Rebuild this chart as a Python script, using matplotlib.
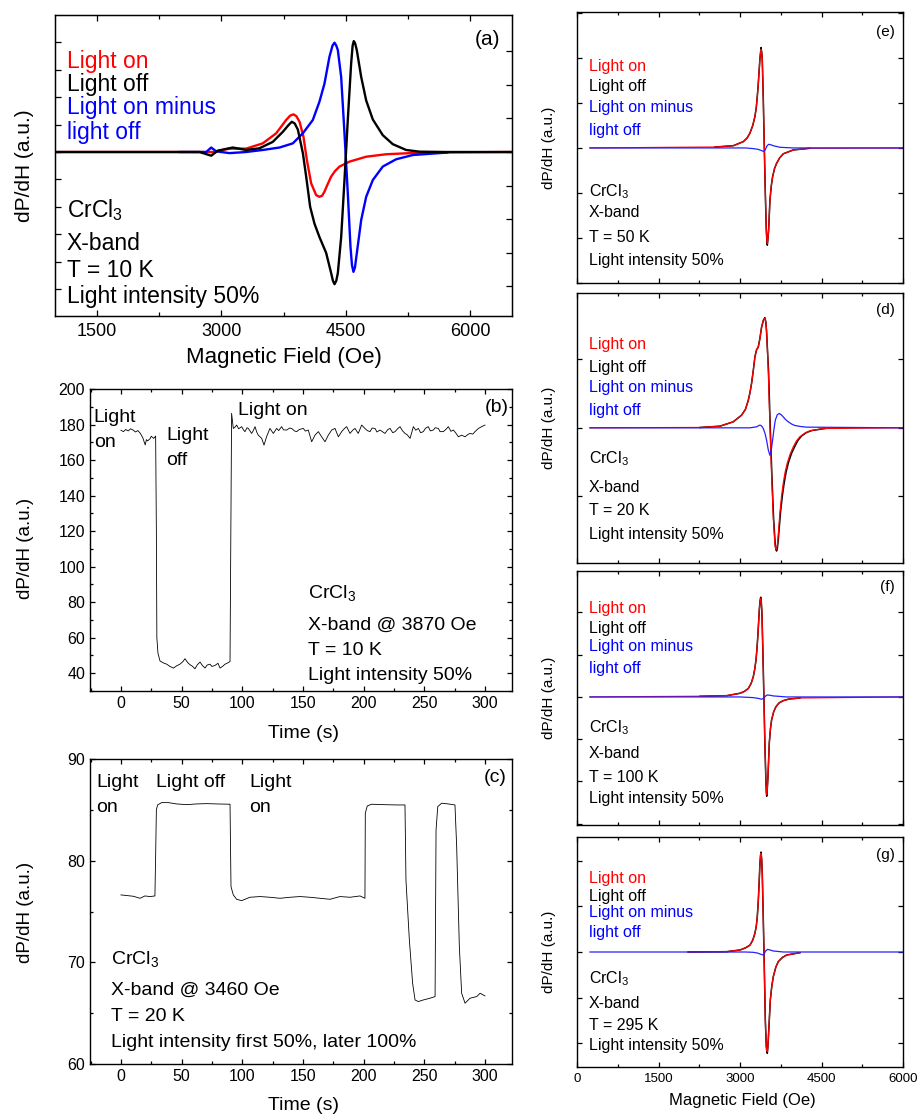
import matplotlib
matplotlib.use("Agg")
import matplotlib.pyplot as plt
from matplotlib.ticker import MultipleLocator

plt.rcParams['font.family'] = ['Liberation Sans', 'DejaVu Sans']
plt.rcParams['mathtext.fontset'] = 'custom'
plt.rcParams['mathtext.rm'] = 'Liberation Sans'

# ---------------- (a) X-band spectra at 10 K ----------------
a_on_x = [1000, 2700, 2900, 3100, 3300, 3500, 3662, 3782, 3830, 3870, 3905, 3943, 3990, 4031,
          4083, 4143, 4183, 4215, 4243, 4280, 4323, 4370, 4424, 4544, 4745, 4985, 5306, 5800, 6500]
a_on_y = [0.0, 0.0, 0.0, 0.03, 0.03, 0.077, 0.167, 0.286, 0.325, 0.336, 0.32, 0.27, 0.137, -0.07,
          -0.28, -0.385, -0.40, -0.39, -0.354, -0.29, -0.22, -0.17, -0.13, -0.086, -0.042, -0.02,
          -0.009, -0.003, 0.0]

a_off_x = [1000, 2740, 2880, 2960, 3140, 3300, 3460, 3620, 3742, 3810, 3850, 3885, 3923, 3983,
           4023, 4071, 4123, 4183, 4263, 4323, 4345, 4364, 4385, 4404, 4444, 4484, 4524, 4564,
           4582, 4596, 4612, 4632, 4685, 4745, 4825, 4945, 5065, 5226, 5386, 5700, 6500]
a_off_y = [0.0, 0.0, -0.033, 0.012, 0.04, 0.018, 0.033, 0.09, 0.18, 0.24, 0.27, 0.255, 0.20, -0.01,
           -0.22, -0.49, -0.64, -0.76, -0.90, -1.08, -1.15, -1.18, -1.15, -1.08, -0.76, -0.25, 0.29,
           0.79, 0.95, 0.99, 0.97, 0.91, 0.67, 0.46, 0.29, 0.15, 0.07, 0.018, 0.003, 0.0, 0.0]

a_diff_x = [2500, 2820, 2880, 2940, 3100, 3300, 3500, 3702, 3862, 3983, 4103, 4183, 4243, 4303,
            4340, 4364, 4385, 4404, 4444, 4484, 4524, 4556, 4574, 4592, 4610, 4632, 4685, 4745,
            4825, 4945, 5105, 5306, 5720]
a_diff_y = [0.0, 0.0, 0.04, 0.006, -0.01, 0.0, 0.018, 0.04, 0.077, 0.167, 0.286, 0.45, 0.61, 0.85,
            0.95, 0.976, 0.95, 0.91, 0.67, 0.167, -0.37, -0.845, -1.01, -1.07, -1.03, -0.905, -0.607,
            -0.40, -0.25, -0.13, -0.065, -0.027, -0.005]

# ---------------- (b) time trace at 3870 Oe, 10 K ----------------
b_t = [0, 2, 4, 6, 8, 10, 12, 14, 16, 18, 20, 21, 22, 24, 25, 27, 28.6,
       29.2, 29.6, 30.5, 32.2, 35, 37.7, 40, 43.2, 46, 48.6, 51, 52.8, 55, 56.9, 59,
       61.0, 63, 65.2, 67, 69.3, 71, 73.4, 75, 77.5, 80, 81.7, 84, 85.8, 88, 89.9,
       90.6, 91.2, 92.6, 94, 95.4, 97, 99.5, 101, 102.2, 104, 105, 107.7, 109, 110.5,
       112, 113.2, 116, 117.9, 120, 122.8, 125.6, 128.3, 130, 132.4, 134, 136.6, 139,
       140.7, 143, 144.8, 147, 150.3, 152, 154.4, 157.2, 159.9, 162.7, 165.4, 168.2,
       170.9, 173.7, 176.4, 179.2, 181.9, 184, 186, 188.8, 191, 192.9, 195.6, 198.4,
       201.1, 203, 205.3, 207, 209.4, 211, 213.5, 215, 217.6, 220, 221.8, 224, 225.9,
       228, 230, 232, 234.1, 236, 238.3, 241, 243, 245.1, 247, 249.2, 251, 253.3, 255,
       257.5, 259, 261.6, 263, 265.7, 268, 269.8, 272, 274, 276, 278.1, 280.8, 283.6,
       286, 287.7, 290, 291.8, 294.6, 297.3, 300]
b_v = [176.8, 176.0, 177.2, 176.4, 177.6, 176.9, 175.8, 176.6, 175.0, 172.6, 168.5, 171.5, 170.8,
       172.0, 173.4, 172.2, 173.5,
       120.0, 60.0, 51.3, 46.9, 45.8, 45.1, 44.0, 42.9, 44.2, 45.1, 46.5, 48.2, 46.0, 44.8, 43.9,
       42.5, 44.8, 46.3, 44.5, 42.9, 44.6, 45.1, 43.8, 44.4, 45.6, 42.9, 44.0, 45.1, 45.8, 46.6,
       120.0, 186.3, 177.8, 178.5, 179.7, 177.6, 178.8, 177.0, 176.0, 178.2, 177.8, 175.0, 176.5,
       178.8, 175.6, 174.0, 172.2, 168.4, 173.1, 177.8, 175.0, 177.8, 176.6, 178.8, 177.0, 176.9,
       178.0, 177.8, 176.4, 176.0, 177.2, 177.8, 176.3, 176.9, 170.3, 174.0, 176.0, 173.1, 170.3,
       174.0, 176.9, 177.8, 173.1, 176.0, 177.6, 178.8, 175.0, 176.8, 177.8, 175.0, 179.7,
       177.8, 176.6, 176.0, 178.0, 177.8, 175.8, 176.9, 176.2, 175.0, 177.2, 177.8, 175.4, 176.0,
       177.6, 178.8, 176.5, 175.0, 174.2, 172.2, 178.8, 176.8, 177.8, 175.4, 176.0, 177.9, 178.8,
       176.4, 176.9, 178.2, 177.8, 176.0, 176.0, 177.4, 178.8, 176.2, 176.9, 175.2, 173.1, 174.0,
       173.1, 174.4, 175.0, 174.6, 176.0, 177.8, 178.8, 179.7]

# ---------------- (c) time trace at 3460 Oe, 20 K ----------------
c_t = [0, 4.7, 10.2, 15.7, 19.8, 23.9, 28.0, 28.6, 29.2, 30.2, 33.5, 39, 45.9, 54.1, 62.4,
       70.6, 78.9, 89.9, 90.7, 92.6, 95.4, 99.5, 106.3, 114.6, 122.8, 131.1, 139.3, 147.6,
       155.8, 164.1, 172.3, 180.5, 188.8, 197.0, 201.1, 201.4, 203, 206.6, 216.3, 227.3,
       234.1, 234.9, 237.7, 240.4, 242.4, 245.1, 249.2, 254.7, 258.9, 259.7, 261.1, 264.3,
       269.8, 275.3, 276.7, 278.9, 280.8, 283.6, 287.7, 293.2, 296, 300]
c_v = [76.63, 76.57, 76.5, 76.3, 76.53, 76.47, 76.53, 80.5, 84.99, 85.48, 85.71, 85.71, 85.58,
       85.51, 85.58, 85.61, 85.58, 85.55, 77.45, 76.63, 76.2, 76.07, 76.4, 76.47, 76.4, 76.3,
       76.4, 76.47, 76.4, 76.3, 76.2, 76.47, 76.4, 76.53, 76.3, 84.66, 85.38, 85.55, 85.51,
       85.48, 85.48, 78.1, 72.2, 67.94, 66.3, 66.14, 66.3, 66.47, 66.63, 83.02, 85.32, 85.65,
       85.58, 85.48, 81.38, 71.55, 66.96, 65.98, 66.47, 66.63, 66.96, 66.7]

# ---------------- (e) 50 K ----------------
e_on_x = [239, 2540, 2877, 3060, 3130, 3183, 3235, 3275, 3300, 3318, 3335, 3349, 3368, 3386,
          3400, 3410, 3429, 3447, 3466, 3484, 3495, 3502, 3512, 3527, 3551, 3575, 3600, 3635,
          3674, 3730, 3797, 3981, 4287, 6000]
e_on_y = [0.0, 0.02, 0.05, 0.14, 0.22, 0.33, 0.50, 0.70, 0.90, 1.14, 1.40, 1.66, 2.00, 2.19,
          2.12, 1.96, 1.07, 0.03, -1.0, -1.82, -2.06, -2.12, -2.05, -1.82, -1.16, -0.85, -0.64,
          -0.46, -0.34, -0.22, -0.13, -0.044, -0.007, 0.0]
e_off_x = [2540, 2877, 3060, 3130, 3183, 3235, 3275, 3300, 3318, 3335, 3349, 3368, 3388,
           3400, 3410, 3429, 3447, 3466, 3484, 3495, 3503, 3512, 3527, 3551, 3575, 3600, 3635,
           3674, 3730, 3797, 3981, 4287]
e_off_y = [0.02, 0.05, 0.14, 0.22, 0.33, 0.50, 0.70, 0.90, 1.14, 1.40, 1.66, 2.00, 2.23,
           2.12, 1.96, 1.07, 0.03, -1.0, -1.82, -2.08, -2.16, -2.05, -1.82, -1.16, -0.85, -0.64,
           -0.46, -0.34, -0.22, -0.13, -0.044, -0.007]
e_diff_x = [239, 3100, 3245, 3330, 3400, 3441, 3460, 3478, 3500, 3527, 3570, 3613, 3735, 3981, 6000]
e_diff_y = [0.0, 0.0, -0.015, -0.03, -0.06, -0.08, -0.05, -0.007, 0.05, 0.08, 0.07, 0.05, 0.015,
            0.0, 0.0]

# ---------------- (d) 20 K ----------------
d_on_x = [239, 2263, 2631, 2876, 3029, 3100, 3152, 3185, 3213, 3245, 3275, 3305, 3336, 3365,
          3397, 3430, 3458, 3475, 3489, 3520, 3550, 3581, 3612, 3642, 3655, 3667, 3680, 3697,
          3734, 3765, 3796, 3830, 3869, 3920, 3979, 4040, 4102, 4190, 4286, 4531, 6000]
d_on_y = [0.0, 0.005, 0.024, 0.088, 0.185, 0.27, 0.40, 0.52, 0.65, 0.84, 1.04, 1.14, 1.18, 1.30,
          1.47, 1.57, 1.60, 1.55, 1.43, 0.84, 0.06, -0.67, -1.30, -1.69, -1.76, -1.78, -1.75,
          -1.64, -1.25, -1.00, -0.81, -0.65, -0.52, -0.39, -0.28, -0.19, -0.13, -0.08, -0.044,
          -0.01, 0.0]
d_off_x = [2263, 2631, 2876, 3029, 3100, 3152, 3185, 3213, 3245, 3275, 3305, 3336, 3365, 3397,
           3430, 3458, 3475, 3489, 3526, 3556, 3587, 3618, 3649, 3661, 3673, 3686, 3704, 3746,
           3780, 3814, 3850, 3894, 3950, 4010, 4070, 4133, 4220, 4317, 4562]
d_off_y = [0.005, 0.024, 0.088, 0.185, 0.27, 0.40, 0.52, 0.65, 0.84, 1.04, 1.14, 1.18, 1.30, 1.47,
           1.57, 1.61, 1.55, 1.40, 0.82, 0.02, -0.70, -1.32, -1.71, -1.78, -1.80, -1.77, -1.64,
           -1.23, -0.99, -0.80, -0.64, -0.50, -0.37, -0.27, -0.18, -0.12, -0.07, -0.04, -0.01]
d_diff_x = [239, 3182, 3305, 3340, 3366, 3395, 3428, 3460, 3489, 3520, 3550, 3575, 3600, 3625,
            3649, 3685, 3722, 3760, 3796, 3840, 3888, 3950, 4010, 4110, 4225, 6000]
d_diff_y = [0.0, 0.0, 0.015, 0.03, 0.04, 0.03, -0.01, -0.08, -0.18, -0.32, -0.40, -0.33, -0.18,
            -0.02, 0.11, 0.19, 0.21, 0.19, 0.16, 0.12, 0.088, 0.055, 0.034, 0.02, 0.01, 0.0]

# ---------------- (f) 100 K ----------------
f_on_x = [239, 2263, 2755, 3000, 3080, 3153, 3205, 3245, 3270, 3294, 3313, 3331, 3355, 3368,
          3380, 3392, 3404, 3422, 3441, 3459, 3478, 3484, 3490, 3500, 3515, 3539, 3560, 3582,
          3620, 3662, 3720, 3797, 3900, 4103, 6000]
f_on_y = [0.0, 0.016, 0.03, 0.087, 0.13, 0.2, 0.32, 0.48, 0.65, 0.87, 1.15, 1.5, 2.05, 2.25,
          2.33, 2.25, 1.98, 1.03, -0.07, -1.17, -2.04, -2.22, -2.31, -2.22, -1.88, -1.09, -0.76,
          -0.54, -0.35, -0.23, -0.14, -0.087, -0.05, -0.024, 0.0]
f_off_x = [2263, 2755, 3000, 3080, 3153, 3205, 3245, 3270, 3294, 3313, 3331, 3355, 3368,
           3381, 3392, 3404, 3422, 3441, 3459, 3478, 3484, 3491, 3500, 3515, 3539, 3560, 3582,
           3620, 3662, 3720, 3797, 3900, 4103]
f_off_y = [0.016, 0.03, 0.087, 0.13, 0.2, 0.32, 0.48, 0.65, 0.87, 1.15, 1.5, 2.05, 2.27,
           2.36, 2.25, 1.98, 1.03, -0.07, -1.17, -2.04, -2.24, -2.35, -2.22, -1.88, -1.09, -0.76,
           -0.54, -0.35, -0.23, -0.14, -0.087, -0.05, -0.024]
f_diff_x = [239, 3000, 3245, 3340, 3398, 3441, 3470, 3502, 3550, 3613, 3858, 6000]
f_diff_y = [0.0, 0.0, -0.016, -0.035, -0.055, -0.024, 0.02, 0.047, 0.04, 0.024, 0.0, 0.0]

# ---------------- (g) 295 K ----------------
g_on_x = [2045, 2755, 3000, 3100, 3183, 3235, 3275, 3300, 3318, 3335, 3349, 3367, 3378, 3386,
          3398, 3410, 3429, 3447, 3466, 3484, 3494, 3502, 3512, 3527, 3558, 3585, 3613, 3660,
          3705, 3780, 3858, 4103]
g_on_y = [0.0, 0.007, 0.044, 0.09, 0.15, 0.26, 0.41, 0.57, 0.77, 1.08, 1.43, 1.94, 2.10, 2.16,
          2.05, 1.72, 0.70, -0.32, -1.49, -2.07, -2.16, -2.18, -2.10, -1.78, -1.05, -0.75, -0.54,
          -0.33, -0.21, -0.12, -0.066, -0.015]
g_off_x = [2045, 2755, 3000, 3100, 3183, 3235, 3275, 3300, 3318, 3335, 3349, 3367, 3378, 3387,
           3398, 3410, 3429, 3447, 3466, 3484, 3494, 3503, 3512, 3527, 3558, 3585, 3613, 3660,
           3705, 3780, 3858, 4103]
g_off_y = [0.0, 0.007, 0.044, 0.09, 0.15, 0.26, 0.41, 0.57, 0.77, 1.08, 1.43, 1.94, 2.12, 2.19,
           2.05, 1.72, 0.70, -0.32, -1.49, -2.07, -2.19, -2.22, -2.10, -1.78, -1.05, -0.75, -0.54,
           -0.33, -0.21, -0.12, -0.066, -0.015]
g_diff_x = [239, 3100, 3245, 3330, 3367, 3429, 3450, 3472, 3508, 3550, 3613, 3797, 6000]
g_diff_y = [0.0, 0.0, -0.007, -0.025, -0.044, -0.066, -0.03, 0.022, 0.058, 0.045, 0.022, 0.0, 0.0]

legend_lines = [("Light on", "red"), ("Light off", "black"),
                ("Light on minus", "blue"), ("light off", "blue")]
info_common = [r"CrCl$_\mathregular{3}$", "X-band"]

W, H = 922, 1118
fig = plt.figure(figsize=(W / 100, H / 100), dpi=100)


def px_axes(left, top, right, bottom):
    return fig.add_axes([left / W, 1 - bottom / H, (right - left) / W, (bottom - top) / H])


def style(ax, size, length=3.5, width=0.9):
    ax.tick_params(which='both', direction='in', top=True, right=True,
                   labelsize=size, width=width)
    ax.tick_params(which='major', length=length)
    ax.tick_params(which='minor', length=length * 0.6)
    for s in ax.spines.values():
        s.set_linewidth(1.0)


# ---- panel (a)
ax = px_axes(55, 15, 512, 316)
ax.plot(a_on_x, a_on_y, color='red', lw=1.7)
ax.plot(a_diff_x, a_diff_y, color='blue', lw=1.7)
ax.plot(a_off_x, a_off_y, color='black', lw=1.7)
ax.set_xlim(1000, 6500)
ax.set_ylim(-1.464, 1.223)
ax.xaxis.set_major_locator(MultipleLocator(1500))
ax.xaxis.set_minor_locator(MultipleLocator(750))
ax.set_yticks([k * 0.245 for k in range(-5, 5)])
ax.set_yticklabels([])
style(ax, 13, length=4.5)
ax.tick_params(which='both', right=False)
ax.tick_params(axis='x', pad=5)
axr = ax.twinx()
axr.set_ylim(ax.get_ylim())
axr.set_yticks([k * 0.3 for k in range(-4, 4)])
axr.set_yticklabels([])
axr.tick_params(direction='in', length=4.5, width=0.9)
for (txt, col), yb in zip(legend_lines, [0.824, 0.748, 0.671, 0.588]):
    ax.text(0.026, yb, txt, color=col, fontsize=16.5, transform=ax.transAxes, va='baseline')
for txt, yb in zip(info_common + ["T = 10 K", "Light intensity 50%"], [0.329, 0.219, 0.130, 0.043]):
    ax.text(0.026, yb, txt, color='black', fontsize=16.5, transform=ax.transAxes, va='baseline')
ax.text(0.974, 0.917, "(a)", fontsize=15, transform=ax.transAxes, ha='right', va='center')
fig.text(284 / W, 1 - 358 / H, "Magnetic Field (Oe)", fontsize=16, ha='center', va='center')
fig.text(24 / W, 1 - 166 / H, "dP/dH (a.u.)", fontsize=15, rotation=90, ha='center', va='center')

# ---- panel (b)
ax = px_axes(90, 389, 512, 691)
ax.plot(b_t, b_v, color='black', lw=0.6)
ax.set_xlim(-25.5, 322.3)
ax.set_ylim(30, 200)
ax.xaxis.set_major_locator(MultipleLocator(50))
ax.xaxis.set_minor_locator(MultipleLocator(25))
ax.yaxis.set_major_locator(MultipleLocator(20))
ax.yaxis.set_minor_locator(MultipleLocator(10))
style(ax, 11.5)
fs = 14
ax.text(0.009, 0.891, "Light", fontsize=fs, transform=ax.transAxes, va='baseline')
ax.text(0.009, 0.808, "on", fontsize=fs, transform=ax.transAxes, va='baseline')
ax.text(0.180, 0.831, "Light", fontsize=fs, transform=ax.transAxes, va='baseline')
ax.text(0.180, 0.748, "off", fontsize=fs, transform=ax.transAxes, va='baseline')
ax.text(0.351, 0.914, "Light on", fontsize=fs, transform=ax.transAxes, va='baseline')
ax.text(0.992, 0.94, "(b)", fontsize=fs, transform=ax.transAxes, ha='right', va='center')
for txt, yb in zip([r"CrCl$_\mathregular{3}$", "X-band @ 3870 Oe", "T = 10 K", "Light intensity 50%"],
                   [0.305, 0.202, 0.119, 0.036]):
    ax.text(0.517, yb, txt, fontsize=fs, transform=ax.transAxes, va='baseline')
fig.text(303 / W, 1 - 733 / H, "Time (s)", fontsize=14, ha='center', va='center')
fig.text(25 / W, 1 - 548 / H, "dP/dH (a.u.)", fontsize=13.5, rotation=90, ha='center', va='center')

# ---- panel (c)
ax = px_axes(90, 759, 512, 1064)
ax.plot(c_t, c_v, color='black', lw=0.6)
ax.set_xlim(-25.5, 322.3)
ax.set_ylim(60, 90)
ax.xaxis.set_major_locator(MultipleLocator(50))
ax.xaxis.set_minor_locator(MultipleLocator(25))
ax.yaxis.set_major_locator(MultipleLocator(10))
ax.yaxis.set_minor_locator(MultipleLocator(5))
style(ax, 11.5)
ax.text(0.014, 0.908, "Light", fontsize=fs, transform=ax.transAxes, va='baseline')
ax.text(0.014, 0.826, "on", fontsize=fs, transform=ax.transAxes, va='baseline')
ax.text(0.156, 0.908, "Light off", fontsize=fs, transform=ax.transAxes, va='baseline')
ax.text(0.377, 0.908, "Light", fontsize=fs, transform=ax.transAxes, va='baseline')
ax.text(0.377, 0.826, "on", fontsize=fs, transform=ax.transAxes, va='baseline')
ax.text(0.988, 0.94, "(c)", fontsize=fs, transform=ax.transAxes, ha='right', va='center')
for txt, yb in zip([r"CrCl$_\mathregular{3}$", "X-band @ 3460 Oe", "T = 20 K",
                    "Light intensity first 50%, later 100%"],
                   [0.325, 0.226, 0.141, 0.056]):
    ax.text(0.05, yb, txt, fontsize=fs, transform=ax.transAxes, va='baseline')
fig.text(303 / W, 1 - 1106 / H, "Time (s)", fontsize=14, ha='center', va='center')
fig.text(25 / W, 1 - 912 / H, "dP/dH (a.u.)", fontsize=13.5, rotation=90, ha='center', va='center')

# ---- right column: temperature series
right_panels = [
    (12, 283, (-3.0, 3.02), "(e)", "T = 50 K", e_on_x, e_on_y, e_off_x, e_off_y, e_diff_x, e_diff_y,
     [0.782, 0.708, 0.631, 0.546], [0.321, 0.244, 0.151, 0.066], 0.926),
    (293, 563, (-1.975, 1.97), "(d)", "T = 20 K", d_on_x, d_on_y, d_off_x, d_off_y, d_diff_x, d_diff_y,
     [0.793, 0.707, 0.633, 0.548], [0.37, 0.263, 0.178, 0.089], 0.937),
    (571, 825, (-3.03, 2.98), "(f)", "T = 100 K", f_on_x, f_on_y, f_off_x, f_off_y, f_diff_x, f_diff_y,
     [0.835, 0.756, 0.685, 0.598], [0.366, 0.264, 0.169, 0.087], 0.937),
    (837, 1067, (-2.52, 2.52), "(g)", "T = 295 K", g_on_x, g_on_y, g_off_x, g_off_y, g_diff_x, g_diff_y,
     [0.80, 0.722, 0.652, 0.565], [0.365, 0.257, 0.161, 0.074], 0.92),
]
for (top, bot, ylim, tag, temp, onx, ony, offx, offy, dx, dy,
     leg_y, info_y, tag_y) in right_panels:
    ax = px_axes(577, top, 903, bot)
    ax.plot(offx, offy, color='black', lw=1.1)
    ax.plot(onx, ony, color='red', lw=0.9)
    ax.plot(dx, dy, color='#2222ff', lw=0.9)
    ax.set_xlim(0, 6000)
    ax.set_ylim(*ylim)
    ax.xaxis.set_major_locator(MultipleLocator(1500))
    ax.xaxis.set_minor_locator(MultipleLocator(750))
    ax.yaxis.set_major_locator(MultipleLocator(1.0))
    ax.set_yticklabels([])
    style(ax, 9.5, length=3.5)
    if tag != "(g)":
        ax.set_xticklabels([])
    else:
        ax.tick_params(axis='x', pad=4)
    for (txt, col), yb in zip(legend_lines, leg_y):
        ax.text(0.037, yb, txt, color=col, fontsize=11.5, transform=ax.transAxes, va='baseline')
    for txt, yb in zip(info_common + [temp, "Light intensity 50%"], info_y):
        ax.text(0.037, yb, txt, color='black', fontsize=11.5, transform=ax.transAxes, va='baseline')
    ax.text(0.975, tag_y, tag, fontsize=11, transform=ax.transAxes, ha='right', va='center')
    fig.text(549 / W, 1 - (top + bot) / 2 / H, "dP/dH (a.u.)", fontsize=11, rotation=90,
             ha='center', va='center')

fig.text(742 / W, 1 - 1100 / H, "Magnetic Field (Oe)", fontsize=12, ha='center', va='center')

fig.savefig("out.png", dpi=100, facecolor='white')
